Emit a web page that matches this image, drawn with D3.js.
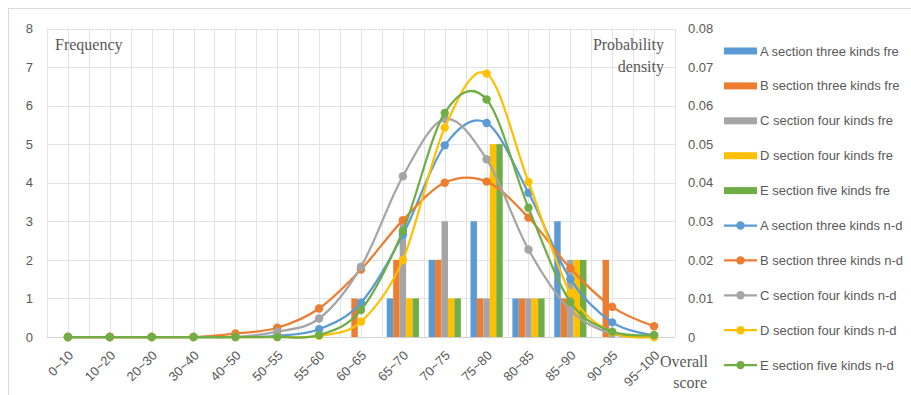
<!DOCTYPE html>
<html>
<head>
<meta charset="utf-8">
<script src="https://cdn.jsdelivr.net/npm/d3@7"></script>
<style>
  html, body { margin: 0; padding: 0; background: #fff; }
  svg { display: block; }
</style>
</head>
<body>
<div id="chart"></div>
<script>
// categories (score ranges)
const categories = ['0~10', '10~20', '20~30', '30~40', '40~50', '50~55', '55~60', '60~65',
  '65~70', '70~75', '75~80', '80~85', '85~90', '90~95', '95~100'];

// frequency bars
const freqA = [0, 0, 0, 0, 0, 0, 0, 0, 1, 2, 3, 1, 3, 0, 0];
const freqB = [0, 0, 0, 0, 0, 0, 0, 1, 2, 2, 1, 1, 1, 2, 0];
const freqC = [0, 0, 0, 0, 0, 0, 0, 0, 3, 3, 1, 1, 2, 0, 0];
const freqD = [0, 0, 0, 0, 0, 0, 0, 0, 1, 1, 5, 1, 2, 0, 0];
const freqE = [0, 0, 0, 0, 0, 0, 0, 0, 1, 1, 5, 1, 2, 0, 0];

// normal density lines (right axis)
const ndA = [0, 0, 0, 0, 0, 0.0003, 0.002, 0.0089, 0.0265, 0.0497, 0.0555, 0.0374, 0.015, 0.0038, 0.0004];
const ndB = [0, 0, 0, 0, 0.0009, 0.0024, 0.0074, 0.0175, 0.0303, 0.0400, 0.0403, 0.031, 0.0178, 0.0078, 0.0028];
const ndC = [0, 0, 0, 0, 0, 0.0014, 0.0048, 0.0182, 0.0417, 0.0565, 0.0461, 0.0227, 0.007, 0.0008, 0];
const ndD = [0, 0, 0, 0, 0, 0, 0.0003, 0.004, 0.020, 0.0543, 0.0683, 0.0402, 0.0114, 0.0012, 0];
const ndE = [0, 0, 0, 0, 0, 0, 0.0005, 0.007, 0.0275, 0.0581, 0.0616, 0.0335, 0.0091, 0.0014, 0.0005];

const barNames = ['A section three kinds fre', 'B section three kinds fre', 'C section four kinds fre',
  'D section four kinds fre', 'E section five kinds fre'];
const lineNames = ['A section three kinds n-d', 'B section three kinds n-d', 'C section four kinds n-d',
  'D section four kinds n-d', 'E section five kinds n-d'];
const colors = ['#5B9BD5', '#ED7D31', '#A5A5A5', '#FFC000', '#70AD47'];

const freqs = [freqA, freqB, freqC, freqD, freqE];
const nds = [ndA, ndB, ndC, ndD, ndE];

const W = 911, H = 395;
const plot = { left: 47, right: 675, top: 28.5, bottom: 337 };
const textColor = '#595959';
const font = '"Liberation Sans", Arial, sans-serif';
const serif = '"Liberation Serif", "Times New Roman", serif';

const svg = d3.select('#chart').append('svg')
  .attr('width', W)
  .attr('height', H);

// chart frame
svg.append('rect')
  .attr('x', 8.5).attr('y', 8.5)
  .attr('width', W + 10).attr('height', H + 10)
  .attr('fill', '#fff')
  .attr('stroke', '#d9d9d9');

// Scales
const x = d3.scaleBand().domain(categories).range([plot.left, plot.right]);
const yL = d3.scaleLinear().domain([0, 8]).range([plot.bottom, plot.top]);
const yR = d3.scaleLinear().domain([0, 0.08]).range([plot.bottom, plot.top]);
const xInner = d3.scaleBand().domain(d3.range(5)).range([0, x.bandwidth()])
  .paddingInner(0).paddingOuter(0.75);

// Gridlines
const grid = svg.append('g').attr('stroke', '#e3e3e3').attr('stroke-width', 1);
const vLines = [];
categories.forEach(c => { vLines.push(x(c)); vLines.push(x(c) + x.bandwidth() / 2); });
vLines.push(plot.right);
grid.selectAll('.v')
  .data(vLines)
  .enter().append('line')
  .attr('x1', d => Math.round(d) + 0.5).attr('x2', d => Math.round(d) + 0.5)
  .attr('y1', plot.top).attr('y2', plot.bottom);
grid.selectAll('.h')
  .data(yL.ticks(8))
  .enter().append('line')
  .attr('x1', plot.left).attr('x2', plot.right)
  .attr('y1', d => Math.round(yL(d)) + 0.5).attr('y2', d => Math.round(yL(d)) + 0.5)
  .attr('stroke', d => d === 0 ? '#d0d0d0' : '#e3e3e3');

// Axes (labels only)
const axL = svg.append('g')
  .attr('transform', `translate(${plot.left - 11},0)`)
  .call(d3.axisLeft(yL).ticks(8).tickSize(0).tickFormat(d3.format('d')));
axL.select('.domain').remove();
axL.selectAll('text')
  .attr('fill', textColor).attr('font-family', font).attr('font-size', 13);

const axR = svg.append('g')
  .attr('transform', `translate(${plot.right + 10},0)`)
  .call(d3.axisRight(yR).ticks(8).tickSize(0).tickFormat(d => d === 0 ? '0' : d3.format('.2f')(d)));
axR.select('.domain').remove();
axR.selectAll('text')
  .attr('fill', textColor).attr('font-family', font).attr('font-size', 13);

const axB = svg.append('g')
  .attr('transform', `translate(0,${plot.bottom})`)
  .call(d3.axisBottom(x).tickSize(0));
axB.select('.domain').remove();
axB.selectAll('text')
  .attr('fill', textColor).attr('font-family', font).attr('font-size', 13)
  .attr('text-anchor', 'end')
  .attr('dy', '0.35em')
  .attr('transform', 'translate(3,16) rotate(-45)')
  .attr('y', 0).attr('x', 0);

// Bars
const bars = svg.append('g').attr('class', 'bars');
freqs.forEach((vals, i) => {
  bars.selectAll('.bar' + i)
    .data(vals.map((v, j) => ({ c: categories[j], v })).filter(d => d.v > 0))
    .enter().append('rect')
    .attr('x', d => x(d.c) + xInner(i))
    .attr('y', d => yL(d.v))
    .attr('width', xInner.bandwidth())
    .attr('height', d => yL(0) - yL(d.v))
    .attr('fill', colors[i]);
});

// Lines
const line = d3.line()
  .x(d => x(d.c) + x.bandwidth() / 2)
  .y(d => yR(d.v))
  .curve(d3.curveCardinal.tension(0));

nds.forEach((vals, i) => {
  const pts = vals.map((v, j) => ({ c: categories[j], v }));
  const g = svg.append('g');
  g.append('path')
    .datum(pts)
    .attr('fill', 'none')
    .attr('stroke', colors[i])
    .attr('stroke-width', 2.25)
    .attr('d', line);
  g.selectAll('circle')
    .data(pts)
    .enter().append('circle')
    .attr('cx', d => x(d.c) + x.bandwidth() / 2)
    .attr('cy', d => yR(d.v))
    .attr('r', 4.2)
    .attr('fill', colors[i]);
});

// Axis titles
const titleSize = 16;
svg.append('text')
  .attr('x', 55).attr('y', 50)
  .attr('font-family', serif).attr('font-size', titleSize).attr('fill', textColor)
  .text('Frequency');
svg.append('text')
  .attr('x', 664).attr('y', 50)
  .attr('text-anchor', 'end')
  .attr('font-family', serif).attr('font-size', titleSize).attr('fill', textColor)
  .text('Probability');
svg.append('text')
  .attr('x', 664).attr('y', 72)
  .attr('text-anchor', 'end')
  .attr('font-family', serif).attr('font-size', titleSize).attr('fill', textColor)
  .text('density');
svg.append('text')
  .attr('x', 708).attr('y', 367)
  .attr('text-anchor', 'end')
  .attr('font-family', serif).attr('font-size', titleSize).attr('fill', textColor)
  .text('Overall');
svg.append('text')
  .attr('x', 707).attr('y', 388)
  .attr('text-anchor', 'end')
  .attr('font-family', serif).attr('font-size', titleSize).attr('fill', textColor)
  .text('score');

// Legend
const legend = svg.append('g');
const rowY = i => 51 + i * 34.9;
barNames.forEach((name, i) => {
  legend.append('rect')
    .attr('x', 724).attr('y', rowY(i) - 3.5)
    .attr('width', 33).attr('height', 7)
    .attr('fill', colors[i]);
  legend.append('text')
    .attr('x', 760).attr('y', rowY(i)).attr('dy', '0.35em')
    .attr('font-family', font).attr('font-size', 13).attr('fill', textColor)
    .text(name);
});
lineNames.forEach((name, i) => {
  const yy = rowY(i + 5);
  legend.append('line')
    .attr('x1', 724).attr('x2', 757)
    .attr('y1', yy).attr('y2', yy)
    .attr('stroke', colors[i]).attr('stroke-width', 2.25);
  legend.append('circle')
    .attr('cx', 740.5).attr('cy', yy).attr('r', 4.2)
    .attr('fill', colors[i]);
  legend.append('text')
    .attr('x', 760).attr('y', yy).attr('dy', '0.35em')
    .attr('font-family', font).attr('font-size', 13).attr('fill', textColor)
    .text(name);
});
</script>
</body>
</html>
